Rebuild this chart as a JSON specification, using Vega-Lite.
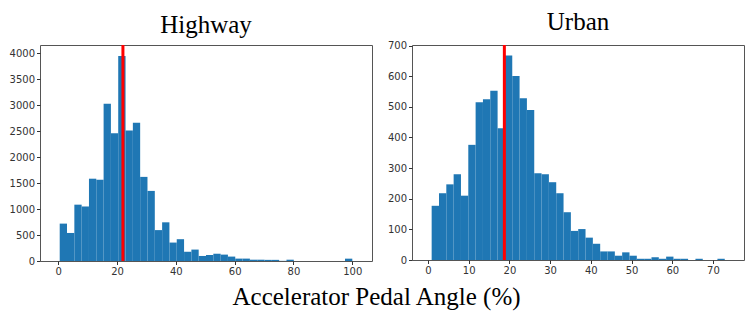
{
  "$schema": "https://vega.github.io/schema/vega-lite/v6.json",
  "padding": {"left": 8, "top": 9, "right": 5, "bottom": 5},
  "spacing": 13,
  "config": {
    "view": {"stroke": "#555", "strokeWidth": 1},
    "axis": {"labelFont": "DejaVu Sans", "labelFontSize": 10, "labelColor": "#333", "tickColor": "#333", "tickSize": 3.5, "labelPadding": 2, "domain": false, "grid": false, "title": null, "format": "d"},
    "title": {"font": "Liberation Serif", "fontSize": 25, "fontWeight": "normal", "color": "black", "offset": 6}
  },
  "title": {"text": "Accelerator Pedal Angle (%)", "orient": "bottom", "anchor": "middle", "font": "Liberation Serif", "fontSize": 25, "fontWeight": "normal", "color": "black", "offset": 8},
  "datasets": {
    "highway": [
      {"lo": 0.5, "hi": 2.99, "count": 720},
      {"lo": 2.99, "hi": 5.48, "count": 540},
      {"lo": 5.48, "hi": 7.96, "count": 1085},
      {"lo": 7.96, "hi": 10.45, "count": 1050},
      {"lo": 10.45, "hi": 12.94, "count": 1585},
      {"lo": 12.94, "hi": 15.43, "count": 1565},
      {"lo": 15.43, "hi": 17.91, "count": 3030},
      {"lo": 17.91, "hi": 20.4, "count": 2460},
      {"lo": 20.4, "hi": 22.89, "count": 3950},
      {"lo": 22.89, "hi": 25.38, "count": 2515},
      {"lo": 25.38, "hi": 27.86, "count": 2665},
      {"lo": 27.86, "hi": 30.35, "count": 1620},
      {"lo": 30.35, "hi": 32.84, "count": 1350},
      {"lo": 32.84, "hi": 35.33, "count": 595},
      {"lo": 35.33, "hi": 37.81, "count": 745},
      {"lo": 37.81, "hi": 40.3, "count": 355},
      {"lo": 40.3, "hi": 42.79, "count": 420},
      {"lo": 42.79, "hi": 45.28, "count": 178},
      {"lo": 45.28, "hi": 47.76, "count": 220},
      {"lo": 47.76, "hi": 50.25, "count": 97},
      {"lo": 50.25, "hi": 52.74, "count": 116},
      {"lo": 52.74, "hi": 55.23, "count": 140},
      {"lo": 55.23, "hi": 57.71, "count": 123},
      {"lo": 57.71, "hi": 60.2, "count": 85},
      {"lo": 60.2, "hi": 62.69, "count": 46},
      {"lo": 62.69, "hi": 65.18, "count": 46},
      {"lo": 65.18, "hi": 67.66, "count": 25},
      {"lo": 67.66, "hi": 70.15, "count": 25},
      {"lo": 70.15, "hi": 72.64, "count": 22},
      {"lo": 72.64, "hi": 75.13, "count": 22},
      {"lo": 75.13, "hi": 77.61, "count": 3},
      {"lo": 77.61, "hi": 80.1, "count": 25},
      {"lo": 97.51, "hi": 100.0, "count": 45}
    ],
    "urban": [
      {"lo": 0.9, "hi": 2.7, "count": 177},
      {"lo": 2.7, "hi": 4.5, "count": 218},
      {"lo": 4.5, "hi": 6.3, "count": 247},
      {"lo": 6.3, "hi": 8.1, "count": 280},
      {"lo": 8.1, "hi": 9.9, "count": 210},
      {"lo": 9.9, "hi": 11.7, "count": 376},
      {"lo": 11.7, "hi": 13.5, "count": 515},
      {"lo": 13.5, "hi": 15.3, "count": 525},
      {"lo": 15.3, "hi": 17.1, "count": 553},
      {"lo": 17.1, "hi": 18.9, "count": 430},
      {"lo": 18.9, "hi": 20.7, "count": 668},
      {"lo": 20.7, "hi": 22.5, "count": 601},
      {"lo": 22.5, "hi": 24.3, "count": 528},
      {"lo": 24.3, "hi": 26.1, "count": 490},
      {"lo": 26.1, "hi": 27.9, "count": 283},
      {"lo": 27.9, "hi": 29.7, "count": 280},
      {"lo": 29.7, "hi": 31.5, "count": 254},
      {"lo": 31.5, "hi": 33.3, "count": 218},
      {"lo": 33.3, "hi": 35.1, "count": 156},
      {"lo": 35.1, "hi": 36.9, "count": 95},
      {"lo": 36.9, "hi": 38.7, "count": 101},
      {"lo": 38.7, "hi": 40.5, "count": 73},
      {"lo": 40.5, "hi": 42.3, "count": 53},
      {"lo": 42.3, "hi": 44.1, "count": 28},
      {"lo": 44.1, "hi": 45.9, "count": 28},
      {"lo": 45.9, "hi": 47.7, "count": 14},
      {"lo": 47.7, "hi": 49.5, "count": 25},
      {"lo": 49.5, "hi": 51.3, "count": 14},
      {"lo": 51.3, "hi": 53.1, "count": 4},
      {"lo": 53.1, "hi": 54.9, "count": 4},
      {"lo": 54.9, "hi": 56.7, "count": 9},
      {"lo": 56.7, "hi": 58.5, "count": 4},
      {"lo": 58.5, "hi": 60.3, "count": 11},
      {"lo": 60.3, "hi": 62.1, "count": 4},
      {"lo": 62.1, "hi": 63.9, "count": 4},
      {"lo": 65.7, "hi": 67.5, "count": 4},
      {"lo": 71.1, "hi": 72.9, "count": 4}
    ],
    "means": [
      {"panel": "Highway", "value": 22.0},
      {"panel": "Urban", "value": 18.76}
    ]
  },
  "hconcat": [
    {
      "title": "Highway",
      "width": 332,
      "height": 216,
      "layer": [
        {
          "data": {"name": "highway"},
          "mark": {"type": "bar", "color": "#1f77b4", "orient": "vertical"},
          "encoding": {
            "x": {"field": "lo", "type": "quantitative", "scale": {"domain": [-4.5, 105], "nice": false, "zero": false}, "axis": {"values": [0, 20, 40, 60, 80, 100]}},
            "x2": {"field": "hi"},
            "y": {"field": "count", "type": "quantitative", "scale": {"domain": [0, 4160], "nice": false}, "axis": {"values": [0, 500, 1000, 1500, 2000, 2500, 3000, 3500, 4000]}},
            "y2": {"datum": 0}
          }
        },
        {
          "data": {"name": "means"},
          "transform": [{"filter": "datum.panel === 'Highway'"}],
          "mark": {"type": "rule", "color": "#ff0000", "strokeWidth": 3},
          "encoding": {"x": {"field": "value", "type": "quantitative"}}
        }
      ]
    },
    {
      "title": "Urban",
      "width": 332,
      "height": 215,
      "layer": [
        {
          "data": {"name": "urban"},
          "mark": {"type": "bar", "color": "#1f77b4", "orient": "vertical"},
          "encoding": {
            "x": {"field": "lo", "type": "quantitative", "scale": {"domain": [-2.7, 76.4], "nice": false, "zero": false}, "axis": {"values": [0, 10, 20, 30, 40, 50, 60, 70]}},
            "x2": {"field": "hi"},
            "y": {"field": "count", "type": "quantitative", "scale": {"domain": [0, 702], "nice": false}, "axis": {"values": [0, 100, 200, 300, 400, 500, 600, 700]}},
            "y2": {"datum": 0}
          }
        },
        {
          "data": {"name": "means"},
          "transform": [{"filter": "datum.panel === 'Urban'"}],
          "mark": {"type": "rule", "color": "#ff0000", "strokeWidth": 3},
          "encoding": {"x": {"field": "value", "type": "quantitative"}}
        }
      ]
    }
  ]
}
